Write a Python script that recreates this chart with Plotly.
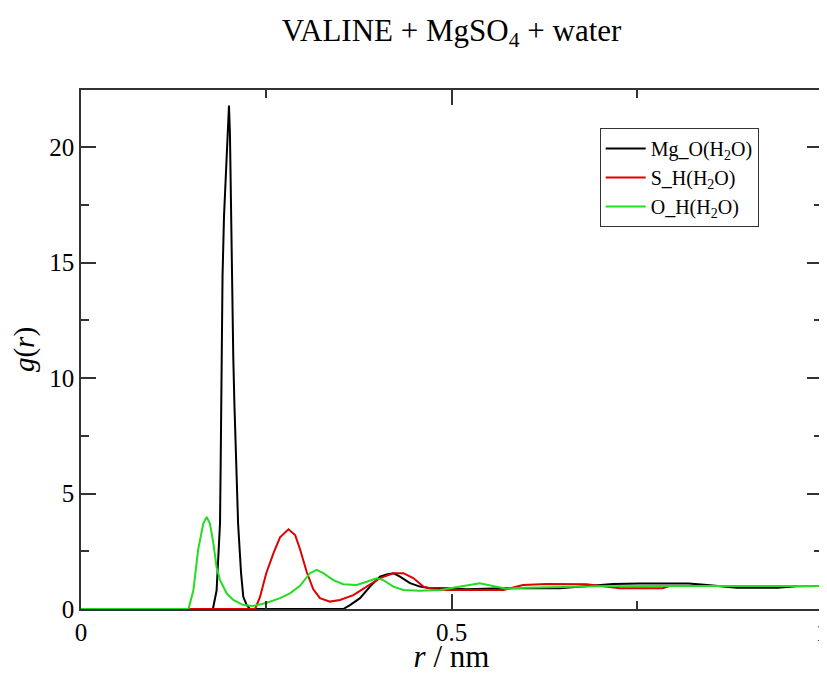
import plotly.graph_objects as go

# Mg_O(H2O) - black
r_mgo = [0, 0.178, 0.183, 0.185, 0.1876, 0.1885, 0.19, 0.191, 0.193, 0.195, 0.1997, 0.201, 0.202, 0.203,
         0.2047, 0.2055, 0.207, 0.209, 0.210, 0.212, 0.216, 0.219, 0.2236, 0.228, 0.354, 0.363, 0.3765,
         0.39, 0.4035, 0.4125, 0.4215, 0.4305, 0.444, 0.4575, 0.471, 0.4935, 0.52, 0.57, 0.646, 0.682,
         0.718, 0.754, 0.82, 0.845, 0.885, 0.94, 0.965, 1.0]
g_mgo = [0, 0, 0.8, 2.3, 3.7, 6.3, 10.3, 14.4, 17, 18.4, 21.8, 20.6, 18, 15.4,
         13, 10.9, 8.9, 6.75, 5.2, 3.7, 1.55, 0.53, 0.17, 0, 0, 0.17, 0.47,
         0.97, 1.4, 1.5, 1.55, 1.4, 1.12, 0.97, 0.9, 0.9, 0.85, 0.9, 0.9, 1.0,
         1.08, 1.1, 1.1, 1.04, 0.92, 0.92, 0.98, 1.0]

# S_H(H2O) - red
r_sh = [0, 0.235, 0.2416, 0.25, 0.2595, 0.2686, 0.28, 0.289, 0.2955, 0.3046, 0.3135, 0.3225, 0.336,
        0.3495, 0.3675, 0.3856, 0.4035, 0.4215, 0.435, 0.4485, 0.462, 0.4755, 0.4935, 0.5115, 0.57,
        0.5965, 0.6285, 0.682, 0.727, 0.785, 0.795, 0.9, 1.0]
g_sh = [0, 0, 0.52, 1.55, 2.4, 3.1, 3.45, 3.2, 2.6, 1.6, 0.85, 0.47, 0.32,
        0.39, 0.6, 0.97, 1.34, 1.55, 1.55, 1.34, 0.97, 0.87, 0.82, 0.82, 0.82,
        1.04, 1.08, 1.07, 0.9, 0.9, 1.0, 1.0, 1.0]

# O_H(H2O) - green
r_oh = [0, 0.145, 0.1516, 0.158, 0.165, 0.1696, 0.174, 0.1786, 0.183, 0.1876, 0.1966, 0.2055, 0.219,
        0.232, 0.25, 0.2686, 0.282, 0.2955, 0.309, 0.318, 0.327, 0.3405, 0.354, 0.372, 0.3856, 0.399,
        0.408, 0.4215, 0.435, 0.4575, 0.4845, 0.5115, 0.538, 0.556, 0.574, 0.6, 0.7, 0.8, 0.9, 1.0]
g_oh = [0, 0, 0.8, 2.55, 3.7, 3.98, 3.7, 2.85, 1.8, 1.25, 0.68, 0.39, 0.17,
        0.13, 0.26, 0.47, 0.68, 1.0, 1.55, 1.69, 1.55, 1.25, 1.07, 1.04, 1.18, 1.33,
        1.25, 0.97, 0.82, 0.79, 0.82, 0.97, 1.11, 1.0, 0.88, 0.92, 0.98, 1.0, 1.0, 1.0]

x_ticks = [0, 0.5, 1]
x_ticklabels = ["0", "0.5", "1"]
y_ticks = [0, 5, 10, 15, 20]
y_ticklabels = ["0", "5", "10", "15", "20"]

font_family = "Liberation Serif"

fig = go.Figure()
fig.add_trace(go.Scatter(x=r_mgo, y=g_mgo, mode="lines", name="Mg_O(H<sub>2</sub>O)",
                         line=dict(color="black", width=2)))
fig.add_trace(go.Scatter(x=r_sh, y=g_sh, mode="lines", name="S_H(H<sub>2</sub>O)",
                         line=dict(color="#e00000", width=2)))
fig.add_trace(go.Scatter(x=r_oh, y=g_oh, mode="lines", name="O_H(H<sub>2</sub>O)",
                         line=dict(color="#22dd22", width=2)))

axis_common = dict(showline=True, linecolor="#333", linewidth=1.5, mirror="ticks",
                   ticks="inside", ticklen=15, tickwidth=1.5, tickcolor="#333",
                   showgrid=False, zeroline=False, automargin=False,
                   ticklabeloverflow="allow",
                   tickfont=dict(family=font_family, size=25, color="black"))

# the page adds an 8px body margin, so the figure is sized to fit the window
fig.update_layout(
    width=819, height=666,
    margin=dict(l=73, r=5, t=82, b=65),
    plot_bgcolor="white", paper_bgcolor="white",
    title=dict(text="VALINE + MgSO<sub>4</sub> + water", xref="paper", x=0.5, xanchor="center",
               y=0.967, yanchor="middle", automargin=False,
               font=dict(family=font_family, size=31, color="black")),
    xaxis=dict(range=[0, 1], tickvals=x_ticks, ticktext=x_ticklabels,
               minor=dict(dtick=0.25, ticks="inside", ticklen=8, tickwidth=1.5, tickcolor="#333"),
               title=dict(text="<i>r</i> / nm", font=dict(family=font_family, size=31, color="black"),
                          standoff=8),
               **axis_common),
    yaxis=dict(range=[0, 22.47], tickvals=y_ticks, ticktext=y_ticklabels,
               minor=dict(dtick=2.5, ticks="inside", ticklen=8, tickwidth=1.5, tickcolor="#333"),
               title=dict(text="<i>g</i>(<i>r</i>)", font=dict(family=font_family, size=29, color="black"),
                          standoff=6),
               **axis_common),
    legend=dict(x=0.70, y=0.927, xanchor="left", yanchor="top",
                bordercolor="#333", borderwidth=1, bgcolor="white",
                font=dict(family=font_family, size=20, color="black"),
                tracegroupgap=0, itemwidth=40),
    showlegend=True,
)

fig.write_html("out.html")
